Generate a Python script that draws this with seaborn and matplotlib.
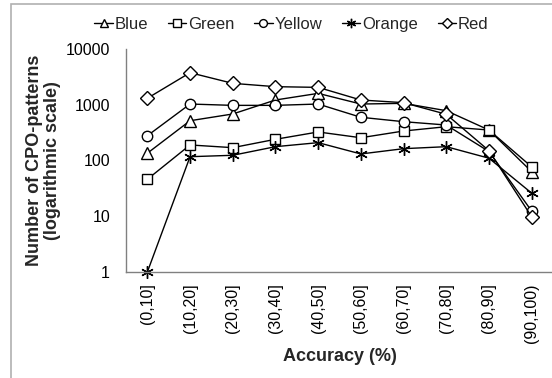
import matplotlib
matplotlib.use("Agg")
import matplotlib.pyplot as plt
import seaborn as sns
import pandas as pd
import numpy as np
from matplotlib.patches import Rectangle
from matplotlib.ticker import FixedLocator, FixedFormatter, NullLocator

categories = ["(0,10]", "(10,20]", "(20,30]", "(30,40]", "(40,50]",
              "(50,60]", "(60,70]", "(70,80]", "(80,90]", "(90,100)"]
blue = [135, 517, 683, 1217, 1600, 1030, 1060, 783, 352, 63]
green = [46, 190, 170, 240, 325, 256, 338, 404, 352, 77]
yellow = [278, 1030, 975, 975, 1030, 596, 497, 433, 145, 12.4]
orange = [1, 117, 124, 177, 209, 131, 163, 177, 110, 26]
red = [1306, 3760, 2420, 2110, 2050, 1217, 1090, 675, 150, 9.8]

series_names = ["Blue", "Green", "Yellow", "Orange", "Red"]
series_values = [blue, green, yellow, orange, red]
y_ticks = [1, 10, 100, 1000, 10000]
y_ticklabels = ["1", "10", "100", "1000", "10000"]

sns.set_style("white")
plt.rcParams['font.family'] = ['Liberation Sans', 'DejaVu Sans']

rows = []
for name, vals in zip(series_names, series_values):
    for i, v in enumerate(vals):
        rows.append({"series": name, "pos": i, "value": v})
df = pd.DataFrame(rows)

markers = {"Blue": "^", "Green": "s", "Yellow": "o", "Orange": (6, 2, 0), "Red": "D"}
msizes = {"Blue": 8, "Green": 7, "Yellow": 7.5, "Orange": 9, "Red": 7}

fig = plt.figure(figsize=(5.52, 3.78), dpi=100)
ax = fig.add_axes([126/552, 1 - 272/378, (553 - 126)/552, (272 - 49)/378])

for name in series_names:
    sub = df[df["series"] == name]
    sns.lineplot(data=sub, x="pos", y="value", ax=ax, color="black", lw=1.0,
                 marker=markers[name], markersize=msizes[name],
                 markerfacecolor="white", markeredgecolor="black",
                 markeredgewidth=1.0, label=name, legend=False)

ax.set_yscale("log")
ax.set_ylim(1, 10000)
ax.set_xlim(-0.5, 9.5)
ax.yaxis.set_major_locator(FixedLocator(y_ticks))
ax.yaxis.set_major_formatter(FixedFormatter(y_ticklabels))
ax.yaxis.set_minor_locator(NullLocator())
ax.set_xticks(range(len(categories)))
ax.set_xticklabels(categories, rotation=90)

for s in ["top", "right"]:
    ax.spines[s].set_visible(False)
for s in ["left", "bottom"]:
    ax.spines[s].set_color("#808080")
    ax.spines[s].set_linewidth(1.0)
ax.tick_params(axis="both", width=1, color="#808080", labelsize=11.5,
               labelcolor="black")
ax.tick_params(axis="y", direction="out", length=4.5, pad=7)
ax.tick_params(axis="x", direction="inout", length=6, pad=5)

ax.set_xlabel("Accuracy (%)", fontsize=13, fontweight="bold")
ax.set_ylabel("Number of CPO-patterns\n(logarithmic scale)", fontsize=13,
              fontweight="bold", linespacing=1.05)
ax.xaxis.set_label_coords((340 - 126) / 427, (272 - 348) / 223)
ax.yaxis.set_label_coords((61 - 126) / 427, 0.5)
for l in ax.get_lines():
    l.set_clip_on(False)

handles, labels = ax.get_legend_handles_labels()
fig.legend(handles, labels, loc="center", bbox_to_anchor=(0.528, 0.935),
           ncol=5, frameon=False, fontsize=12, handlelength=1.1,
           handletextpad=0.1, columnspacing=1.2, markerscale=0.75)

fig.patches.append(Rectangle((11/552, -0.1), 1.2, 1 - 4/378 + 0.1,
                             transform=fig.transFigure, fill=False,
                             edgecolor="#b0b0b0", lw=1.2, zorder=0))

fig.savefig("out.png", dpi=100)
